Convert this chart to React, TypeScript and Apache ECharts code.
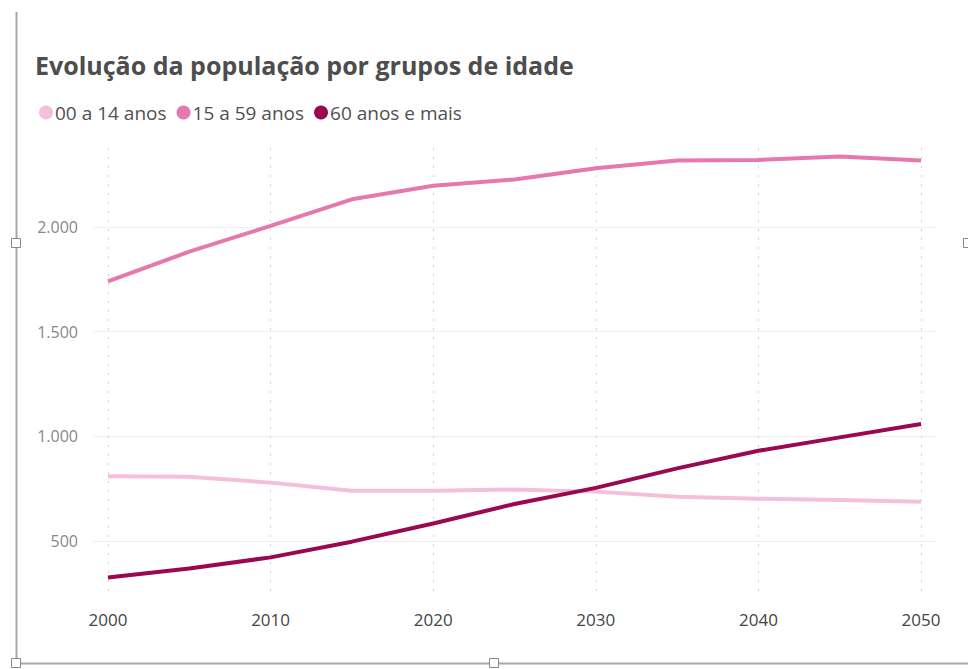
import React, { useEffect, useRef } from "react";
import * as echarts from "echarts";

const years = [2000, 2005, 2010, 2015, 2020, 2025, 2030, 2035, 2040, 2045, 2050];
const age0to14 = [810, 807, 779, 740, 740, 746, 736, 712, 702, 696, 688];
const age15to59 = [1740, 1882, 2005, 2132, 2197, 2227, 2280, 2317, 2320, 2336, 2317];
const age60plus = [326, 369, 422, 497, 584, 677, 754, 847, 931, 995, 1059];
const seriesNames = ["00 a 14 anos", "15 a 59 anos", "60 anos e mais"];
const colors = ["#F4BFDA", "#E677AF", "#9A0852"];
const titleText = "Evolução da população por grupos de idade";

const fmt = (v: number) => {
  const s = Math.round(v).toString();
  return s.replace(/\B(?=(\d{3})+(?!\d))/g, ".");
};

export default function App() {
  const ref = useRef<HTMLDivElement>(null);
  useEffect(() => {
    if (!ref.current) return;
    const chart = echarts.init(ref.current, undefined, { renderer: "svg" });
    const allSeries = [age0to14, age15to59, age60plus];
    const frame = "#A8A8A8";
    chart.setOption({
      animation: false,
      backgroundColor: "#ffffff",
      title: {
        text: titleText,
        left: 30,
        top: 47,
        textStyle: {
          fontFamily: "Open Sans",
          fontWeight: "bold",
          fontSize: 25,
          color: "#4d4d4d",
        },
      },
      legend: {
        left: 34,
        top: 98,
        icon: "circle",
        itemWidth: 14,
        itemHeight: 14,
        itemGap: 10,
        data: seriesNames,
        textStyle: { fontFamily: "Open Sans", fontSize: 19, color: "#505050", padding: [0, 0, 0, -3] },
      },
      grid: { left: 93, right: 32, top: 148, bottom: 71 },
      xAxis: {
        type: "value",
        min: 1999.08,
        max: 2050.92,
        axisLine: { show: false },
        axisTick: { show: false },
        axisLabel: {
          showMinLabel: false,
          showMaxLabel: false,
          margin: 13,
          fontFamily: "Open Sans",
          fontSize: 17,
          color: "#444",
          formatter: (v: number) => String(Math.round(v)),
        },
        splitLine: {
          show: true,
          showMinLine: false,
          showMaxLine: false,
          lineStyle: { color: "#d0d0d0", type: [2, 7], width: 1 },
        },
      },
      yAxis: {
        type: "value",
        min: 228,
        max: 2377,
        axisLine: { show: false },
        axisTick: { show: false },
        axisLabel: {
          showMinLabel: false,
          showMaxLabel: false,
          margin: 15,
          fontFamily: "Open Sans",
          fontSize: 16,
          color: "#888",
          formatter: (v: number) => fmt(v),
        },
        splitLine: {
          show: true,
          showMinLine: false,
          showMaxLine: false,
          lineStyle: { color: "#eeeeee", width: 1 },
        },
      },
      series: seriesNames.map((name, i) => ({
        name,
        type: "line",
        data: years.map((y, j) => [y, allSeries[i][j]]),
        symbol: "none",
        color: colors[i],
        lineStyle: { width: 4, color: colors[i] },
        z: i === 0 ? 1 : 2,
      })),
      graphic: [
        { type: "line", shape: { x1: 16.5, y1: 12, x2: 16.5, y2: 663 }, style: { stroke: frame, lineWidth: 2 } },
        { type: "line", shape: { x1: 16, y1: 663.5, x2: 968, y2: 663.5 }, style: { stroke: frame, lineWidth: 2 } },
        { type: "rect", shape: { x: 11.5, y: 238.5, width: 9, height: 9 }, style: { fill: "#fff", stroke: "#888", lineWidth: 1 } },
        { type: "rect", shape: { x: 11.5, y: 658.5, width: 9, height: 9 }, style: { fill: "#fff", stroke: "#888", lineWidth: 1 } },
        { type: "rect", shape: { x: 489.5, y: 658.5, width: 9, height: 9 }, style: { fill: "#fff", stroke: "#888", lineWidth: 1 } },
        { type: "rect", shape: { x: 963.5, y: 238.5, width: 9, height: 9 }, style: { fill: "#fff", stroke: "#888", lineWidth: 1 } },
      ],
    });
    return () => chart.dispose();
  }, []);
  return (
    <div
      ref={ref}
      style={{ position: "fixed", left: 0, top: 0, width: 968, height: 669 }}
    />
  );
}
